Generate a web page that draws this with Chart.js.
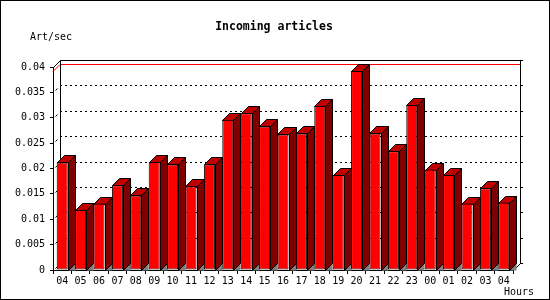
<!DOCTYPE html>
<html>
<head>
<meta charset="utf-8">
<script src="https://cdn.jsdelivr.net/npm/chart.js@4"></script>
<style>
  html, body { margin: 0; padding: 0; background: #fff; }
  #wrap { width: 550px; height: 300px; position: relative; }
</style>
</head>
<body>
<div id="wrap"><canvas id="incoming" width="550" height="300"></canvas></div>
<script>
// first "04" is yesterday, last one is today
var hours = ["04", "05", "06", "07", "08", "09", "10", "11", "12", "13", "14", "15", "16",
             "17", "18", "19", "20", "21", "22", "23", "00", "01", "02", "03", "04"];
var artPerSec = [0.0212, 0.0118, 0.0131, 0.0167, 0.0147, 0.0213, 0.0208, 0.0165, 0.0208, 0.0296,
                 0.0309, 0.0283, 0.0267, 0.0269, 0.0323, 0.0187, 0.0392, 0.0269, 0.0234, 0.0325,
                 0.0198, 0.0187, 0.0131, 0.0161, 0.0133];
var yTicks = [0, 0.005, 0.01, 0.015, 0.02, 0.025, 0.03, 0.035, 0.04];

var DX = 7, DY = 7;
var MONO = '"DejaVu Sans Mono", "Liberation Mono", monospace';

// draws the back wall, dotted grid and the 3d sides of the bars
var box3d = {
    id: 'box3d',
    beforeDatasetsDraw: function(chart) {
        var ctx = chart.ctx, a = chart.chartArea;
        var ys = chart.scales.y;
        ctx.save();
        ctx.lineWidth = 1;

        // dotted lines on the back wall
        ctx.strokeStyle = '#000';
        ctx.setLineDash([2, 3]);
        yTicks.forEach(function(v) {
            if (v === 0 || v === 0.04) return;
            var y = Math.round(ys.getPixelForValue(v) - DY) + 0.5;
            ctx.beginPath();
            ctx.moveTo(a.left + DX, y);
            ctx.lineTo(a.right + DX, y);
            ctx.stroke();
        });
        ctx.setLineDash([]);

        // right hand ticks on the back wall
        yTicks.forEach(function(v) {
            var y = Math.round(ys.getPixelForValue(v) - DY) + 0.5;
            ctx.beginPath();
            ctx.moveTo(a.right + DX, y);
            ctx.lineTo(a.right + DX + 3, y);
            ctx.stroke();
        });

        // max line
        var max = Math.max.apply(null, artPerSec);
        var my = Math.round(ys.getPixelForValue(max)) + 0.5;
        ctx.strokeStyle = '#ff0000';
        ctx.beginPath();
        ctx.moveTo(a.left, my);
        ctx.lineTo(a.left + DX, my - DY);
        ctx.lineTo(a.right + DX, my - DY);
        ctx.stroke();

        // frame
        var L = Math.round(a.left) + 0.5, R = Math.round(a.right) + 0.5;
        var T = Math.round(a.top) + 0.5, B = Math.round(a.bottom) + 0.5;
        ctx.strokeStyle = '#000';
        ctx.beginPath();
        ctx.moveTo(L, T);
        ctx.lineTo(L + DX, T - DY);
        ctx.lineTo(R + DX, T - DY);
        ctx.lineTo(R + DX, B - DY);
        ctx.lineTo(R, B);
        ctx.moveTo(L + DX, T - DY);
        ctx.lineTo(L + DX, B - DY);
        ctx.stroke();

        // small slanted marks between front axis and wall
        yTicks.forEach(function(v) {
            if (v === 0.04) return;
            var y = Math.round(ys.getPixelForValue(v)) + 0.5;
            ctx.beginPath();
            ctx.moveTo(L + 2, y - 2);
            ctx.lineTo(L + 4, y - 4);
            ctx.stroke();
        });

        // tops and sides of the bars, plus floor shadow
        var meta = chart.getDatasetMeta(0);
        meta.data.forEach(function(bar) {
            var xl = Math.round(bar.x - bar.width / 2) + 0.5;
            var xr = Math.round(bar.x + bar.width / 2) + 0.5;
            var yt = Math.round(bar.y) + 0.5;
            var yb = Math.round(bar.base) + 0.5;

            ctx.fillStyle = '#808080';
            ctx.beginPath();
            ctx.moveTo(xr, yb);
            ctx.lineTo(xr + DX, yb - DY);
            ctx.lineTo(xr + DX, yb);
            ctx.closePath();
            ctx.fill();

            ctx.fillStyle = '#800000';
            ctx.beginPath();
            ctx.moveTo(xr, yt);
            ctx.lineTo(xr + DX, yt - DY);
            ctx.lineTo(xr + DX, yb - DY);
            ctx.lineTo(xr, yb);
            ctx.closePath();
            ctx.fill();
            ctx.stroke();

            ctx.fillStyle = '#c00000';
            ctx.beginPath();
            ctx.moveTo(xl, yt);
            ctx.lineTo(xl + DX, yt - DY);
            ctx.lineTo(xr + DX, yt - DY);
            ctx.lineTo(xr, yt);
            ctx.closePath();
            ctx.fill();
            ctx.stroke();
        });
        ctx.restore();
    },
    afterDraw: function(chart) {
        var ctx = chart.ctx;
        ctx.save();
        ctx.fillStyle = '#000';
        ctx.textBaseline = 'middle';
        ctx.font = 'bold 11.5px ' + MONO;
        ctx.textAlign = 'center';
        ctx.fillText('Incoming articles', 274, 27);
        ctx.font = '10px ' + MONO;
        ctx.textAlign = 'left';
        ctx.fillText('Art/sec', 30, 37);
        ctx.fillText('Hours', 504, 292);
        ctx.strokeStyle = '#000';
        ctx.lineWidth = 1;
        ctx.strokeRect(0.5, 0.5, 549, 299);
        ctx.restore();
    }
};

var ctx = document.getElementById('incoming').getContext('2d');
var incomingChart = new Chart(ctx, {
    type: 'bar',
    data: {
        labels: hours,
        datasets: [{
            data: artPerSec,
            backgroundColor: '#ff0000',
            borderColor: '#000',
            borderWidth: 1,
            borderSkipped: false,
            barPercentage: 0.6,
            categoryPercentage: 1
        }]
    },
    options: {
        responsive: false,
        animation: false,
        layout: { padding: { left: 0, right: 37, top: 67, bottom: 0 } },
        plugins: {
            legend: { display: false },
            title: { display: false },
            tooltip: { enabled: false }
        },
        scales: {
            x: {
                afterFit: function(s) { s.height = 30; },
                grid: { drawOnChartArea: false, drawTicks: true, tickLength: 4, color: '#000' },
                border: { display: true, color: '#000' },
                ticks: { color: '#000', font: { family: MONO, size: 10 }, padding: 1, maxRotation: 0, autoSkip: false }
            },
            y: {
                min: 0,
                max: 0.04,
                afterFit: function(s) { s.width = 53; },
                grid: { drawOnChartArea: false, drawTicks: true, tickLength: 3, color: '#000' },
                border: { display: true, color: '#000' },
                ticks: {
                    stepSize: 0.005,
                    color: '#000',
                    padding: 5,
                    font: { family: MONO, size: 10 },
                    callback: function(v) { return String(parseFloat(v.toFixed(3))); }
                }
            }
        }
    },
    plugins: [box3d]
});
</script>
</body>
</html>
